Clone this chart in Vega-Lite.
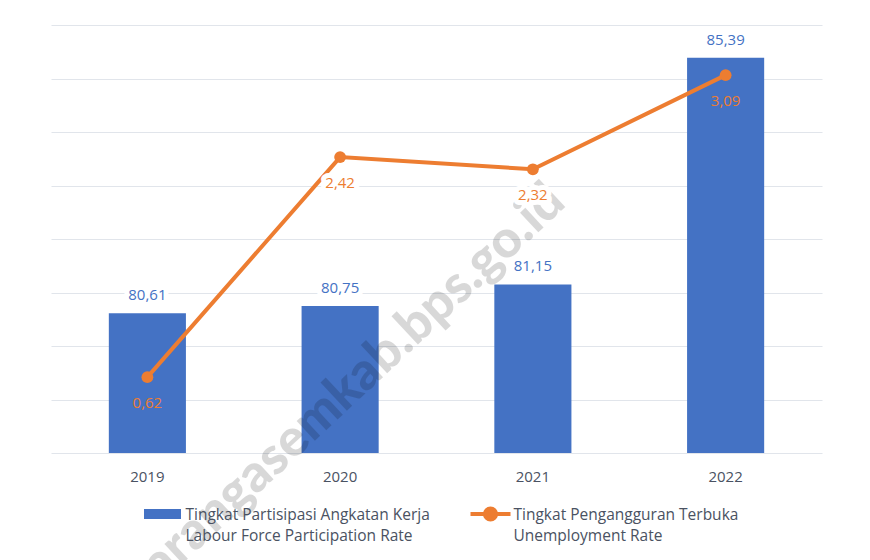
{
  "$schema": "https://vega.github.io/schema/vega-lite/v6.json",
  "width": 771,
  "height": 428,
  "autosize": {"type": "none"},
  "padding": {"left": 51, "top": 25, "right": 48, "bottom": 107},
  "background": "white",
  "config": {
    "locale": {"number": {"decimal": ",", "thousands": ".", "grouping": [3], "currency": ["Rp", ""]}},
    "font": "Open Sans",
    "view": {"stroke": null}
  },
  "data": {
    "values": [
      {"year": "2019", "tpak": 80.61, "tpt": 0.62},
      {"year": "2020", "tpak": 80.75, "tpt": 2.42},
      {"year": "2021", "tpak": 81.15, "tpt": 2.32},
      {"year": "2022", "tpak": 85.39, "tpt": 3.09}
    ]
  },
  "encoding": {
    "x": {
      "field": "year",
      "type": "nominal",
      "scale": {"paddingInner": 0.6, "paddingOuter": 0.3},
      "axis": {
        "title": null,
        "labelAngle": 0,
        "ticks": false,
        "tickSize": 0,
        "domain": false,
        "grid": false,
        "labelFont": "Open Sans",
        "labelFontSize": 15,
        "labelColor": "#4a5262",
        "labelPadding": 23,
        "labelBaseline": "middle"
      }
    }
  },
  "layer": [
    {
      "encoding": {
        "y": {
          "field": "tpak",
          "type": "quantitative",
          "scale": {"domain": [78, 86], "zero": false, "nice": false},
          "axis": {
            "title": null,
            "values": [78, 79, 80, 81, 82, 83, 84, 85, 86],
            "labels": false,
            "ticks": false,
            "domain": false,
            "grid": true,
            "gridColor": "#e1e5eb",
            "gridWidth": 1
          }
        }
      },
      "layer": [
        {
          "mark": {"type": "bar"},
          "encoding": {
            "y2": {"datum": 78},
            "color": {
              "datum": "Tingkat Partisipasi Angkatan Kerja",
              "type": "nominal",
              "scale": {
                "domain": ["Tingkat Partisipasi Angkatan Kerja", "Tingkat Pengangguran Terbuka"],
                "range": ["#4472C4", "#ED7D31"]
              },
              "legend": {
                "title": null,
                "orient": "none",
                "legendX": 91.5,
                "legendY": 479,
                "direction": "horizontal",
                "columns": 2,
                "columnPadding": 32,
                "padding": 0,
                "labelFont": "Open Sans",
                "labelFontSize": 15.5,
                "labelColor": "#4a5262",
                "labelLimit": 400,
                "symbolSize": 1600,
                "labelExpr": "datum.label == 'Tingkat Partisipasi Angkatan Kerja' ? ['Tingkat Partisipasi Angkatan Kerja', 'Labour Force Participation Rate'] : ['Tingkat Pengangguran Terbuka', 'Unemployment Rate']",
                "encode": {
                  "symbols": {
                    "update": {
                      "x": {"value": 20},
                      "y": {"value": 10},
                      "shape": {"signal": "datum.value === 'Tingkat Partisipasi Angkatan Kerja' ? 'M-0.925,-0.25H0.925V0.25H-0.925Z' : 'M-1,0H1M-0.28,0A0.28,0.28,0,1,1,0.28,0A0.28,0.28,0,1,1,-0.28,0Z'"},
                      "fill": {"signal": "datum.value === 'Tingkat Partisipasi Angkatan Kerja' ? '#4472C4' : '#ED7D31'"},
                      "stroke": {"signal": "datum.value === 'Tingkat Partisipasi Angkatan Kerja' ? 'transparent' : '#ED7D31'"},
                      "strokeWidth": {"signal": "datum.value === 'Tingkat Partisipasi Angkatan Kerja' ? 0 : 4"},
                      "size": {"value": 1600},
                      "opacity": {"value": 1},
                      "fillOpacity": {"value": 1},
                      "strokeOpacity": {"value": 1}
                    }
                  },
                  "labels": {
                    "update": {
                      "x": {"value": 43},
                      "y": {"value": 15.5},
                      "baseline": {"value": "alphabetic"},
                      "align": {"value": "left"},
                      "lineHeight": {"value": 21}
                    }
                  }
                }
              }
            }
          }
        },
        {
          "mark": {"type": "text", "fontSize": 15, "dy": -18, "baseline": "middle", "fill": "white", "stroke": "white", "strokeWidth": 10, "strokeJoin": "round"},
          "encoding": {"text": {"field": "tpak", "type": "quantitative", "format": ".2f"}}
        },
        {
          "mark": {"type": "text", "fontSize": 15, "dy": -18, "baseline": "middle", "color": "#4472C4"},
          "encoding": {"text": {"field": "tpak", "type": "quantitative", "format": ".2f"}}
        },
        {
          "transform": [{"filter": "datum.year == '2020'"}],
          "mark": {"type": "text", "font": "Lato", "fontWeight": 900, "fontSize": 52, "angle": -43, "align": "center", "baseline": "middle", "color": "#000000", "opacity": 0.15, "dx": 4},
          "encoding": {
            "y": {"datum": 79.08},
            "text": {"value": "karangasemkab.bps.go.id"}
          }
        }
      ]
    },
    {
      "encoding": {
        "y": {
          "field": "tpt",
          "type": "quantitative",
          "scale": {"domain": [0, 3.5], "nice": false, "zero": true},
          "axis": null
        }
      },
      "layer": [
        {
          "mark": {"type": "line", "strokeWidth": 4, "point": {"filled": true, "size": 140, "opacity": 1}},
          "encoding": {"color": {"datum": "Tingkat Pengangguran Terbuka", "type": "nominal"}}
        },
        {
          "transform": [{"filter": "datum.year == '2020' || datum.year == '2021'"}],
          "mark": {"type": "text", "fontSize": 15, "dy": 26, "baseline": "middle", "fill": "white", "stroke": "white", "strokeWidth": 10, "strokeJoin": "round"},
          "encoding": {"text": {"field": "tpt", "type": "quantitative", "format": ".2f"}}
        },
        {
          "mark": {"type": "text", "fontSize": 15, "dy": 26, "baseline": "middle", "color": "#ED7D31"},
          "encoding": {"text": {"field": "tpt", "type": "quantitative", "format": ".2f"}}
        }
      ]
    }
  ],
  "resolve": {"scale": {"y": "independent"}}
}
